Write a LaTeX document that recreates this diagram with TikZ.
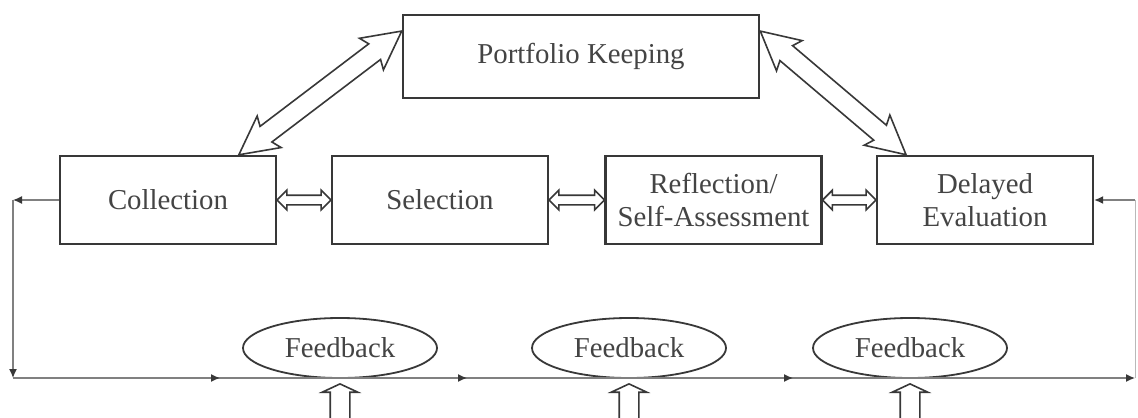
\documentclass[tikz,border=0pt]{standalone}
\usepackage{fontspec}
\setmainfont{Liberation Serif}
\usetikzlibrary{calc,shapes.geometric,shapes.arrows,arrows.meta,decorations.markings}
\definecolor{ink}{HTML}{383838}
\definecolor{txt}{HTML}{444444}
\definecolor{wire}{HTML}{808080}
% hollow double-headed block arrow stretched between two points
\newcommand\blockarrow[3]{\path let \p1=($(#3)-(#2)$), \n1={atan2(\y1,\x1)}, \n2={veclen(\x1,\y1)} in node[#1, rotate=\n1, minimum height=\n2] at ($(#2)!0.5!(#3)$) {};}
\begin{document}
\begin{tikzpicture}[x=0.5pt,y=-0.5pt,
  every node/.style={font=\fontsize{14.4}{16.5}\selectfont, text=txt},
  box/.style={draw=ink, line width=1.1pt, minimum width=108pt, minimum height=44pt, align=center, inner sep=0pt},
  fb/.style={ellipse, draw=ink, line width=0.9pt, minimum width=97pt, minimum height=30pt, inner sep=0pt},
  hollow/.style={double arrow, draw=ink, line width=0.8pt, fill=white, inner xsep=0pt, minimum width=0pt},
  diag/.style={hollow, inner ysep=4.5pt, double arrow head extend=5pt, double arrow tip angle=55, double arrow head indent=2pt},
  link/.style={hollow, inner ysep=2pt, double arrow head extend=2.5pt, double arrow tip angle=90},
  vert/.style={hollow, inner ysep=4.5pt, double arrow head extend=4pt, double arrow tip angle=130},
  wire/.style={draw=wire, line width=0.7pt},
  tip/.style={-{Latex[length=4.5pt,width=4pt,color=ink]}}
]
\clip (0,0) rectangle (1138,417);
\fill[white] (0,0) rectangle (1138,417);

% main blocks
\node[box, minimum width=178pt, minimum height=41.5pt] (Portfolio) at (581,56.5) {Portfolio Keeping};
\node[box] (Collection) at (168,200) {Collection};
\node[box] (Selection) at (440,200) {Selection};
\node[box] (Reflection) at (713.5,200) {Reflection/\\Self-Assessment};
\node[box] (Delayed) at (985,200) {Delayed\\Evaluation};

% feedback ellipses
\node[fb] (F1) at (340,348) {Feedback};
\node[fb] (F2) at (629,348) {Feedback};
\node[fb] (F3) at (910,348) {Feedback};

% anchor points for the diagonal arrows
\coordinate (pl) at ($(Portfolio.north west)!0.2!(Portfolio.south west)$);
\coordinate (pr) at ($(Portfolio.north east)!0.2!(Portfolio.south east)$);
\coordinate (cl) at ($(Collection.north west)!0.824!(Collection.north east)$);
\coordinate (dl) at ($(Delayed.north west)!0.139!(Delayed.north east)$);

\blockarrow{diag}{cl}{pl}
\blockarrow{diag}{pr}{dl}

% links between neighbouring stages
\blockarrow{link}{Collection.east}{Selection.west}
\blockarrow{link}{Selection.east}{Reflection.west}
\blockarrow{link}{Reflection.east}{Delayed.west}

% vertical arrows under the feedback ellipses
\foreach \f in {F1,F2,F3}{
  \coordinate (\f a) at ($(\f.south)+(0,5)$);
  \coordinate (\f b) at ($(\f.south)+(0,50)$);
  \blockarrow{vert}{\f a}{\f b}
}

% feedback loop
\coordinate (lt) at (13,200);
\coordinate (lb) at (13,378);
\coordinate (rb) at (1135,378);
\coordinate (rt) at (1135,200);
\draw[wire,tip] (Collection.west) -- (lt);
\draw[wire,tip] (lt) -- (lb);
\draw[wire,tip,
  postaction={decorate},
  decoration={markings,
    mark=at position 103.5pt with {\arrow{Latex[length=4.5pt,width=4pt,color=ink]}},
    mark=at position 227pt with {\arrow{Latex[length=4.5pt,width=4pt,color=ink]}},
    mark=at position 390pt with {\arrow{Latex[length=4.5pt,width=4pt,color=ink]}}}]
  (lb) -- (rb);
\draw[draw=wire!55, line width=0.5pt] (rb) -- (rt);
\draw[wire,tip] (rt) -- (Delayed.east);
\end{tikzpicture}
\end{document}
